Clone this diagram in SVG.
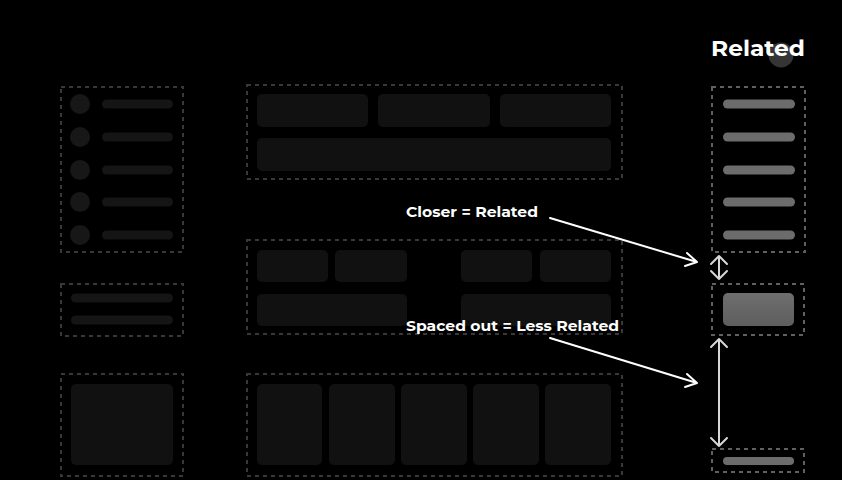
<svg xmlns="http://www.w3.org/2000/svg" width="842" height="480" viewBox="0 0 842 480">
<defs>
<style>
.box{fill:none;stroke:#383838;stroke-width:2;stroke-dasharray:4 4}
.boxl{fill:none;stroke:#606060;stroke-width:2;stroke-dasharray:4 4}
.tile{fill:#111111}
.dot{fill:#171717}
.bar{fill:#151515}
.barl{fill:#6c6c6c}
.lbl{font-family:"Montserrat","Liberation Sans",Arial,sans-serif;font-weight:700;fill:#ffffff}
.arr{fill:none;stroke:#ffffff;stroke-width:2;stroke-linecap:round;stroke-linejoin:round}
.darr{fill:none;stroke:#d8d8d8;stroke-width:2;stroke-linecap:round;stroke-linejoin:round}
</style>
<linearGradient id="g" x1="0" y1="0" x2="0" y2="1"><stop offset="0" stop-color="#6e6e6e"/><stop offset="1" stop-color="#5e5e5e"/></linearGradient>
</defs>
<rect width="842" height="480" fill="#000"/>

<g id="left-list">
<rect class="box" x="61" y="87" width="122" height="165"/>
<circle class="dot" cx="80" cy="104" r="10"/><rect class="bar" x="102" y="99.5" width="71" height="9" rx="4.5"/>
<circle class="dot" cx="80" cy="137" r="10"/><rect class="bar" x="102" y="132.5" width="71" height="9" rx="4.5"/>
<circle class="dot" cx="80" cy="170" r="10"/><rect class="bar" x="102" y="165.5" width="71" height="9" rx="4.5"/>
<circle class="dot" cx="80" cy="202" r="10"/><rect class="bar" x="102" y="197.5" width="71" height="9" rx="4.5"/>
<circle class="dot" cx="80" cy="235" r="10"/><rect class="bar" x="102" y="230.5" width="71" height="9" rx="4.5"/>
</g>
<g id="left-text">
<rect class="box" x="61" y="284" width="122" height="52"/>
<rect class="bar" x="71" y="293.5" width="102" height="9" rx="4.5"/>
<rect class="bar" x="71" y="315.5" width="102" height="9" rx="4.5"/>
</g>
<g id="left-image">
<rect class="box" x="61" y="374" width="122" height="102"/>
<rect class="tile" x="71" y="384" width="102" height="81" rx="5"/>
</g>

<g id="mid-top">
<rect class="box" x="247" y="85" width="375" height="94"/>
<rect class="tile" x="257" y="94" width="111" height="33" rx="5"/>
<rect class="tile" x="378" y="94" width="112" height="33" rx="5"/>
<rect class="tile" x="500" y="94" width="111" height="33" rx="5"/>
<rect class="tile" x="257" y="138" width="354" height="33" rx="5"/>
</g>
<g id="mid-middle">
<rect class="box" x="247" y="240" width="375" height="94"/>
<rect class="tile" x="257" y="250" width="71" height="32" rx="5"/>
<rect class="tile" x="335" y="250" width="72" height="32" rx="5"/>
<rect class="tile" x="461" y="250" width="71" height="32" rx="5"/>
<rect class="tile" x="540" y="250" width="71" height="32" rx="5"/>
<rect class="tile" x="257" y="294" width="150" height="32" rx="5"/>
<rect class="tile" x="461" y="294" width="150" height="32" rx="5"/>
</g>
<g id="mid-bottom">
<rect class="box" x="247" y="374" width="375" height="102"/>
<rect class="tile" x="257" y="384" width="65" height="81" rx="5"/>
<rect class="tile" x="329" y="384" width="66" height="81" rx="5"/>
<rect class="tile" x="401" y="384" width="66" height="81" rx="5"/>
<rect class="tile" x="473" y="384" width="66" height="81" rx="5"/>
<rect class="tile" x="545" y="384" width="66" height="81" rx="5"/>
</g>

<g id="title">
<circle cx="781" cy="55" r="12.5" fill="#353535"/>
<text class="lbl" x="711" y="56" font-size="21.5" textLength="94" lengthAdjust="spacingAndGlyphs">Related</text>
</g>
<g id="right-list">
<rect class="boxl" x="712" y="87" width="93" height="165"/>
<rect class="barl" x="723" y="99.5" width="72" height="9" rx="4.5"/>
<rect class="barl" x="723" y="132.5" width="72" height="9" rx="4.5"/>
<rect class="barl" x="723" y="165.5" width="72" height="9" rx="4.5"/>
<rect class="barl" x="723" y="197.5" width="72" height="9" rx="4.5"/>
<rect class="barl" x="723" y="230.5" width="72" height="9" rx="4.5"/>
</g>
<g id="right-card">
<rect class="boxl" x="712" y="284" width="92" height="51"/>
<rect x="723" y="293" width="71" height="33" rx="5" fill="url(#g)"/>
</g>
<g id="right-bottom">
<rect class="boxl" x="712" y="449" width="92" height="23"/>
<rect class="barl" x="723" y="457" width="71" height="8" rx="4"/>
</g>

<g id="labels">
<text class="lbl" x="406" y="217" font-size="14.5" textLength="132" lengthAdjust="spacingAndGlyphs">Closer = Related</text>
<text class="lbl" x="406" y="331" font-size="14.5" textLength="213" lengthAdjust="spacingAndGlyphs">Spaced out = Less Related</text>
</g>

<g id="connectors">
<path class="arr" d="M550 218 L697 262 M687 253 L697 262 L685 266"/>
<path class="arr" d="M550 338 L697 383 M687 374 L697 383 L685 387"/>
<path class="darr" d="M719 256 L719 279 M711 264 L719 256 L727 264 M711 271 L719 279 L727 271"/>
<path class="darr" d="M719 339 L719 446 M711 347 L719 339 L727 347 M711 438 L719 446 L727 438"/>
</g>
</svg>
